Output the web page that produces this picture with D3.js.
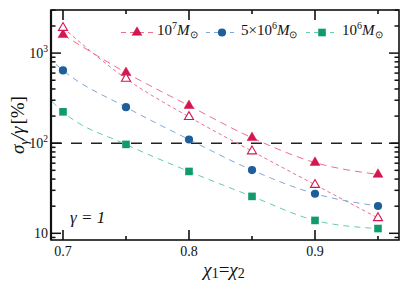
<!DOCTYPE html>
<html><head><meta charset="utf-8">
<script src="https://cdn.jsdelivr.net/npm/d3@7"></script>
<style>
html,body{margin:0;padding:0;background:#fff;}
</style></head>
<body><svg id="c" width="407" height="283"></svg>
<script>
// ---- data ----
const chi = [0.70, 0.75, 0.80, 0.85, 0.90, 0.95];
const m1e7Filled = [1600, 607, 261, 115, 61, 45];
const m1e7Open   = [1911, 521, 196, 81.5, 34.6, 14.8];
const m5e6       = [643, 251, 110, 50.3, 27.5, 20.1];
const m1e6       = [223, 97, 48.6, 25.7, 13.9, 11.3];
// leading (extrapolated) start of the dashed trend curves for 5e6 and 1e6
const m5e6CurveStart = [0.6944, 750];
const m1e6CurveStart = [0.6913, 290];
const xMajorTicks = [0.7, 0.8, 0.9];
const xMinorTicks = [0.75, 0.85, 0.95];
const yMajorTicks = [10, 100, 1000];
const yMajorLabels = ["10", "10", "10"];
const yMajorExp = ["", "2", "3"];
const threshold = 100;
const legendLabels = [["10","7"],["5×10","6"],["10","6"]];

// ---- layout ----
const L = 51, R = 399, T = 10, B = 240;
const FF = '"Liberation Serif"';
const svg = d3.select("#c");
const x = d3.scaleLinear().domain([0.69048, 0.96667]).range([L, R]);
const y = d3.scaleLog().domain([8.43, 3009]).range([B, T]);

const red = "#d4174f", redLine = "#ec6f8e";
const blue = "#1d5e9b", blueLine = "#7fa8d4";
const green = "#109c6a", greenLine = "#62cfa2";

svg.append("defs").append("clipPath").attr("id","pc")
  .append("rect").attr("x",L).attr("y",T).attr("width",R-L).attr("height",B-T);

// threshold line
svg.append("line").attr("x1",L).attr("x2",R).attr("y1",y(threshold)).attr("y2",y(threshold))
  .attr("stroke","#222").attr("stroke-width",1.5).attr("stroke-dasharray","11,9");

const line = d3.line().x(d=>x(d[0])).y(d=>y(d[1])).curve(d3.curveMonotoneX);
const series = [
  {vals:m1e7Filled, start:null, col:red, lc:redLine, dash:"7,5", sym:"tri", fill:true},
  {vals:m1e7Open, start:null, col:red, lc:redLine, dash:"3.5,3", sym:"tri", fill:false},
  {vals:m5e6, start:m5e6CurveStart, col:blue, lc:blueLine, dash:"6,5", sym:"circ", fill:true},
  {vals:m1e6, start:m1e6CurveStart, col:green, lc:greenLine, dash:"6,5", sym:"sq", fill:true}
];
const g = svg.append("g").attr("clip-path","url(#pc)");
series.forEach(s=>{
  let pts = chi.map((c,i)=>[c, s.vals[i]]);
  if (s.start) pts = [s.start].concat(pts);
  g.append("path").attr("d", line(pts)).attr("fill","none")
    .attr("stroke", s.lc).attr("stroke-width",1).attr("stroke-dasharray", s.dash);
});
function sym(sel, type, cx, cy, col, fill){
  if(type==="tri"){
    sel.append("path").attr("d", d3.symbol(d3.symbolTriangle, fill?42:36)())
      .attr("transform",`translate(${cx},${cy})`)
      .attr("fill", fill?col:"#fff").attr("stroke",col).attr("stroke-width", fill?0.5:1.1);
  } else if(type==="circ"){
    sel.append("circle").attr("cx",cx).attr("cy",cy).attr("r",4.1).attr("fill",col);
  } else {
    sel.append("rect").attr("x",cx-3.8).attr("y",cy-3.8).attr("width",7.6).attr("height",7.6).attr("fill",col);
  }
}
series.forEach(s=>{
  chi.forEach((c,i)=> sym(svg, s.sym, x(c), y(s.vals[i]), s.col, s.fill));
});

// ---- frame and ticks ----
const frame = svg.append("g").attr("stroke","#111").attr("fill","none");
frame.append("rect").attr("x",L).attr("y",T).attr("width",R-L).attr("height",B-T).attr("stroke-width",1.6);
frame.append("line").attr("x1",L).attr("x2",L).attr("y1",T).attr("y2",B).attr("stroke-width",2.2);
function vt(xv,len){
  frame.append("line").attr("x1",x(xv)).attr("x2",x(xv)).attr("y1",B).attr("y2",B-len).attr("stroke-width",1.6);
  frame.append("line").attr("x1",x(xv)).attr("x2",x(xv)).attr("y1",T).attr("y2",T+len).attr("stroke-width",1.6);
}
xMajorTicks.forEach(v=>vt(v,10));
xMinorTicks.forEach(v=>vt(v,4));
function ht(yv,len){
  frame.append("line").attr("x1",L).attr("x2",L+len).attr("y1",y(yv)).attr("y2",y(yv)).attr("stroke-width",1.5);
  frame.append("line").attr("x1",R).attr("x2",R-len).attr("y1",y(yv)).attr("y2",y(yv)).attr("stroke-width",1.5);
}
const yMinor = [];
[1,10,100,1000].forEach(d=>{for(let k=2;k<=9;k++){const v=k*d; if(v>=8.43&&v<=3009&&!yMajorTicks.includes(v)) yMinor.push(v);}});
yMinor.forEach(v=>ht(v,4.5));
yMajorTicks.forEach(v=>ht(v,10));

const tc = "#111";
function txt(sel){ return sel.append("text").style("font-family",FF).attr("fill",tc); }
// tick labels
xMajorTicks.forEach(v=>{
  txt(svg).attr("x",x(v)).attr("y",256).attr("text-anchor","middle")
    .attr("font-size",14).text(d3.format(".1f")(v));
});
yMajorTicks.forEach((v,i)=>{
  const t = txt(svg).attr("x",48).attr("y",y(v)+4.5).attr("text-anchor","end").attr("font-size",14);
  t.append("tspan").text(yMajorLabels[i]);
  if(yMajorExp[i]) t.append("tspan").attr("font-size",9.5).attr("dy",-6).text(yMajorExp[i]);
});

// axis labels
const xl = txt(svg).attr("x",224).attr("y",276).attr("text-anchor","middle").attr("font-size",19);
xl.append("tspan").attr("font-style","italic").text("χ");
xl.append("tspan").attr("font-size",14).attr("dy",2).text("1");
xl.append("tspan").attr("dy",-2).text("=");
xl.append("tspan").attr("font-style","italic").text("χ");
xl.append("tspan").attr("font-size",14).attr("dy",2).text("2");

const yl = txt(svg).attr("transform","translate(24,125) rotate(-90)").attr("text-anchor","middle").attr("font-size",19);
yl.append("tspan").attr("font-style","italic").text("σ");
yl.append("tspan").attr("font-style","italic").attr("font-size",13).attr("dy",4).text("γ");
yl.append("tspan").attr("font-style","italic").attr("dy",-4).text("/γ");
yl.append("tspan").attr("dx",2).text("[%]");

txt(svg).attr("x",70).attr("y",223).attr("font-size",17).attr("font-style","italic").text("γ = 1");

// legend
const legItems = [
  {x0:121, col:red, lc:redLine, dash:"5,4", sym:"tri", tx:157},
  {x0:206, col:blue, lc:blueLine, dash:"4,4", sym:"circ", tx:241},
  {x0:306, col:green, lc:greenLine, dash:"4,4", sym:"sq", tx:342}
];
legItems.forEach((it,i)=>{
  svg.append("line").attr("x1",it.x0).attr("x2",it.x0+32).attr("y1",32.5).attr("y2",32.5)
    .attr("stroke",it.lc).attr("stroke-width",1).attr("stroke-dasharray",it.dash);
  sym(svg, it.sym, it.x0+16, 32.5, it.col, true);
  const t = txt(svg).attr("x",it.tx).attr("y",35).attr("font-size",15);
  t.append("tspan").text(legendLabels[i][0]);
  t.append("tspan").attr("font-size",10).attr("dy",-6).text(legendLabels[i][1]);
  t.append("tspan").attr("font-style","italic").attr("dy",6).text("M");
  t.append("tspan").attr("font-size",10).attr("dy",3).text("⊙");
});
</script></body></html>
